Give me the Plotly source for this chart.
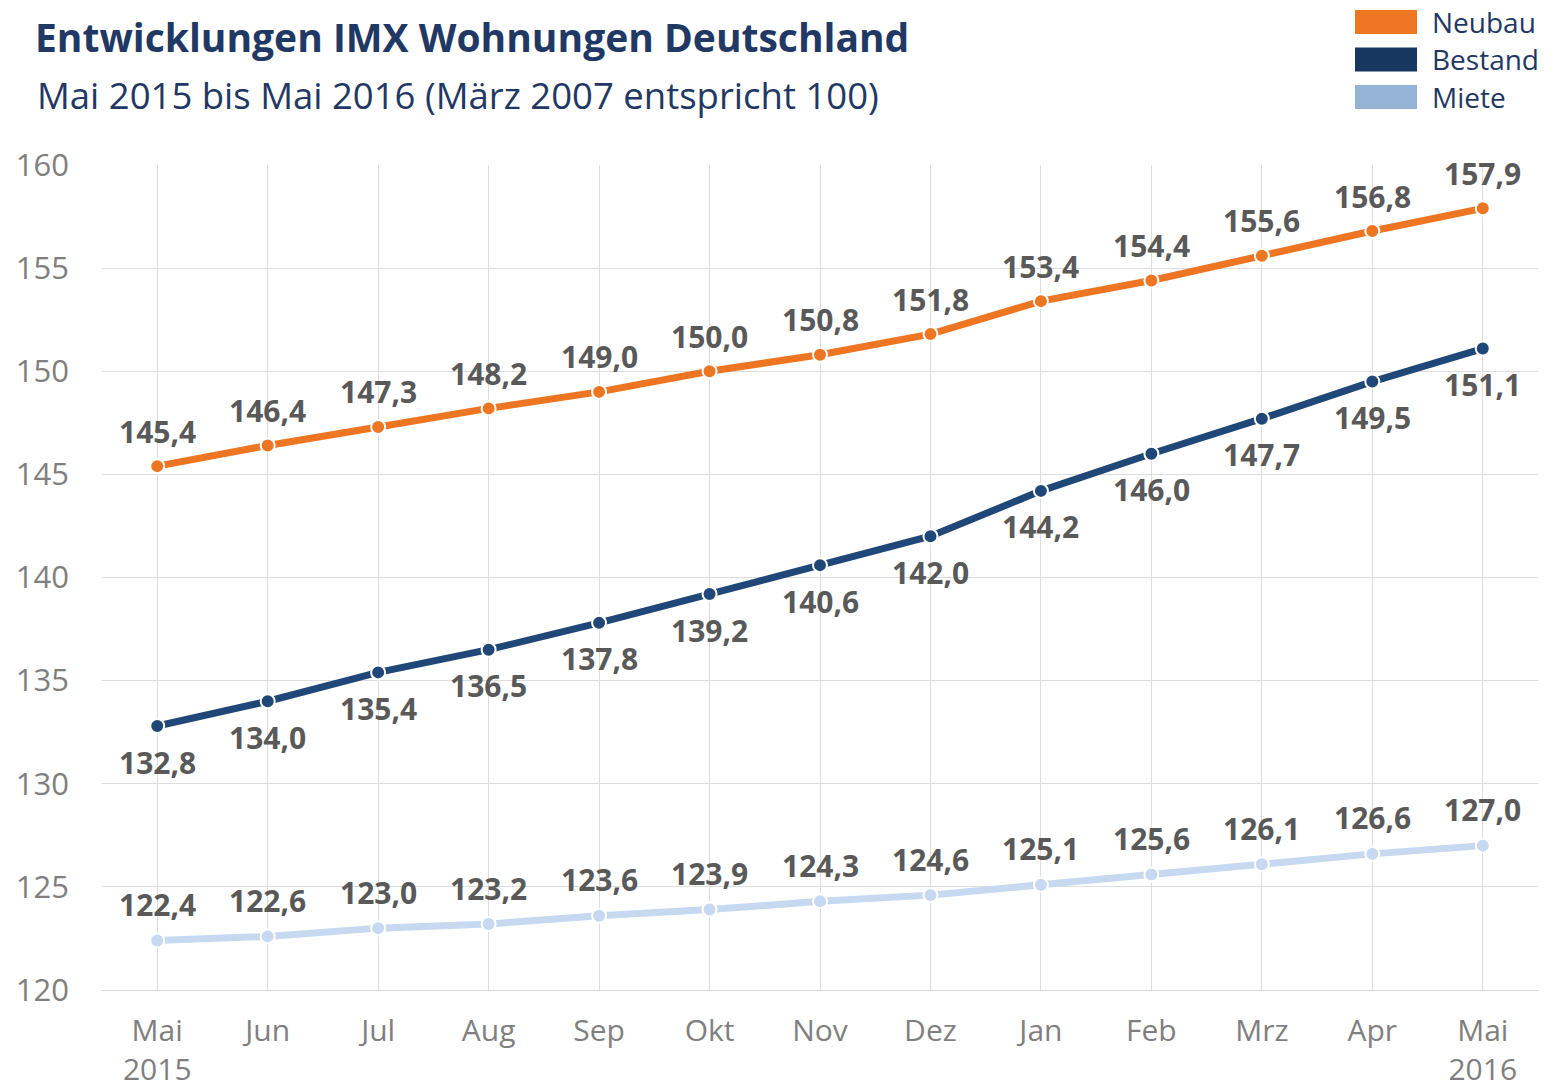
import plotly.graph_objects as go

months = ["Mai<br>2015", "Jun", "Jul", "Aug", "Sep", "Okt", "Nov", "Dez", "Jan", "Feb", "Mrz", "Apr", "Mai<br>2016"]
neubau = [145.4, 146.4, 147.3, 148.2, 149.0, 150.0, 150.8, 151.8, 153.4, 154.4, 155.6, 156.8, 157.9]
bestand = [132.8, 134.0, 135.4, 136.5, 137.8, 139.2, 140.6, 142.0, 144.2, 146.0, 147.7, 149.5, 151.1]
miete = [122.4, 122.6, 123.0, 123.2, 123.6, 123.9, 124.3, 124.6, 125.1, 125.6, 126.1, 126.6, 127.0]
y_ticks = [120, 125, 130, 135, 140, 145, 150, 155, 160]

series = [
    ("Neubau", neubau, "#EE7623", "#EE7623", 35),
    ("Bestand", bestand, "#1F4777", "#17375E", -36),
    ("Miete", miete, "#C6D9F0", "#95B3D7", 36),
]

FONT = "Open Sans"
x = list(range(len(months)))

# screen -> paper helpers (plot area: x 102..1538, y 165..990 on screen)
def px(sx):
    return (sx - 102) / 1436

def py(sy):
    return (990 - sy) / 825

fig = go.Figure()
for name, vals, lc, _, shift in series:
    fig.add_trace(go.Scatter(
        x=x, y=vals, name=name, mode="lines+markers",
        line=dict(color=lc, width=7),
        marker=dict(size=14, color=lc, line=dict(color="white", width=2)),
        showlegend=False, cliponaxis=False,
    ))
    for xi, v in zip(x, vals):
        fig.add_annotation(x=xi, y=v, yshift=shift, showarrow=False,
                           text="<b>" + f"{v:.1f}".replace(".", ",") + "</b>",
                           xanchor="center", yanchor="middle",
                           font=dict(family=FONT, size=30, color="#595959"))

# custom legend
for i, (name, _, _, legc, _) in enumerate(series):
    top = 10 + i * 37.5
    fig.add_shape(type="rect", xref="paper", yref="paper",
                  x0=px(1355), x1=px(1417), y0=py(top + 24), y1=py(top),
                  fillcolor=legc, line=dict(width=0))
    fig.add_annotation(xref="paper", yref="paper", x=px(1430), y=py(top + 12),
                       text=name, showarrow=False, xanchor="left", yanchor="middle",
                       font=dict(family=FONT, size=28, color="#1F3864"))

fig.add_annotation(xref="paper", yref="paper", x=px(33), y=py(37),
                   text="<b>Entwicklungen IMX Wohnungen Deutschland</b>", showarrow=False,
                   xanchor="left", yanchor="middle",
                   font=dict(family=FONT, size=39, color="#1F3864"))
fig.add_annotation(xref="paper", yref="paper", x=px(35), y=py(95),
                   text="Mai 2015 bis Mai 2016 (März 2007 entspricht 100)", showarrow=False,
                   xanchor="left", yanchor="middle",
                   font=dict(family=FONT, size=36.5, color="#1F3864"))

fig.update_layout(
    width=1555, height=1091,
    margin=dict(l=102, r=17, t=165, b=101),
    paper_bgcolor="white", plot_bgcolor="white",
    xaxis=dict(tickvals=x, ticktext=months, range=[-0.5, 12.5], automargin=False,
               showgrid=True, gridcolor="#DDDDDD", gridwidth=1, zeroline=False,
               showline=True, linecolor="#D9D9D9", ticklabelstandoff=14,
               tickfont=dict(family=FONT, size=30, color="#7F7F7F"), ticks=""),
    yaxis=dict(tickvals=y_ticks, range=[120, 160], automargin=False,
               showgrid=True, gridcolor="#DDDDDD", gridwidth=1, zeroline=False,
               ticklabelstandoff=32,
               tickfont=dict(family=FONT, size=31, color="#7F7F7F"), ticks=""),
)

fig.write_html("out.html", config={"displayModeBar": False},
               post_script="document.body.style.margin='0';")
